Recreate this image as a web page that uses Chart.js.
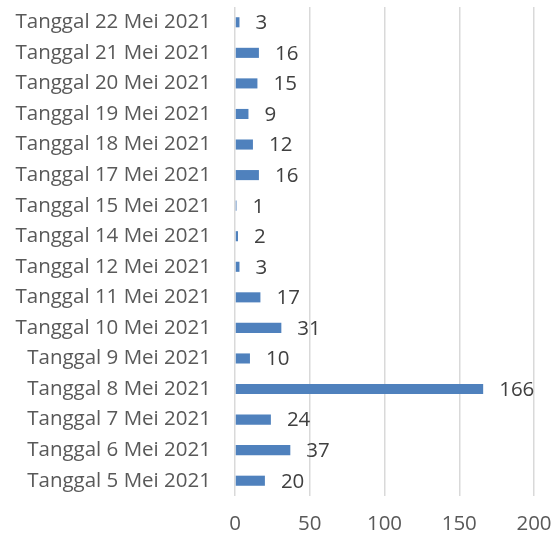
<!DOCTYPE html>
<html><head><meta charset="utf-8">
<script src="https://cdn.jsdelivr.net/npm/chart.js@4/dist/chart.umd.min.js"></script>
<style>html,body{margin:0;padding:0;background:#fff}#wrap{width:554px;height:541px}</style>
</head><body><div id="wrap"><canvas id="c" width="554" height="541"></canvas></div>
<script>
const categories = ["Tanggal 5 Mei 2021","Tanggal 6 Mei 2021","Tanggal 7 Mei 2021","Tanggal 8 Mei 2021","Tanggal 9 Mei 2021","Tanggal 10 Mei 2021","Tanggal 11 Mei 2021","Tanggal 12 Mei 2021","Tanggal 14 Mei 2021","Tanggal 15 Mei 2021","Tanggal 17 Mei 2021","Tanggal 18 Mei 2021","Tanggal 19 Mei 2021","Tanggal 20 Mei 2021","Tanggal 21 Mei 2021","Tanggal 22 Mei 2021"];
const values = [20,37,24,166,10,31,17,3,2,1,16,12,9,15,16,3];
const xTicks = [0,50,100,150,200];

const FONT = "'Open Sans', 'Noto Sans', sans-serif";
const FSIZE = 20.5;
const labelPlugin = {
  id: 'vals',
  afterDatasetsDraw(chart) {
    const ctx = chart.ctx;
    const meta = chart.getDatasetMeta(0);
    ctx.save();
    ctx.font = FSIZE + "px " + FONT;
    ctx.fillStyle = "#404040";
    ctx.textAlign = "left";
    ctx.textBaseline = "middle";
    meta.data.forEach((bar, i) => {
      ctx.fillText(String(values[i]), bar.x + 16, bar.y + 1);
    });
    ctx.restore();
  }
};

new Chart(document.getElementById('c'), {
  type: 'bar',
  data: {
    labels: categories,
    datasets: [{ data: values, backgroundColor: '#4F81BD', barPercentage: 0.33, categoryPercentage: 1 }]
  },
  options: {
    indexAxis: 'y',
    responsive: false,
    animation: false,
    devicePixelRatio: 1,
    layout: { padding: { top: 7, right: 20, left: 0, bottom: 0 } },
    plugins: { legend: { display: false }, tooltip: { enabled: false } },
    scales: {
      x: {
        min: 0, max: 200,
        afterBuildTicks(s) { s.ticks = xTicks.map(v => ({ value: v })); },
        afterFit(s) { s.height = 45; s.paddingLeft = 0; s.paddingRight = 0; },
        grid: { color: '#d9d9d9', lineWidth: 1.5, drawTicks: false },
        border: { display: false },
        ticks: { padding: 16, color: '#595959', font: { size: FSIZE, family: FONT } }
      },
      y: {
        reverse: true,
        afterFit(s) { s.width = 235; s.paddingTop = 0; s.paddingBottom = 0; },
        grid: { display: false, drawTicks: false },
        border: { display: false },
        ticks: { padding: 24, color: '#595959', font: { size: FSIZE, family: FONT }, autoSkip: false }
      }
    }
  },
  plugins: [labelPlugin]
});
</script></body></html>
